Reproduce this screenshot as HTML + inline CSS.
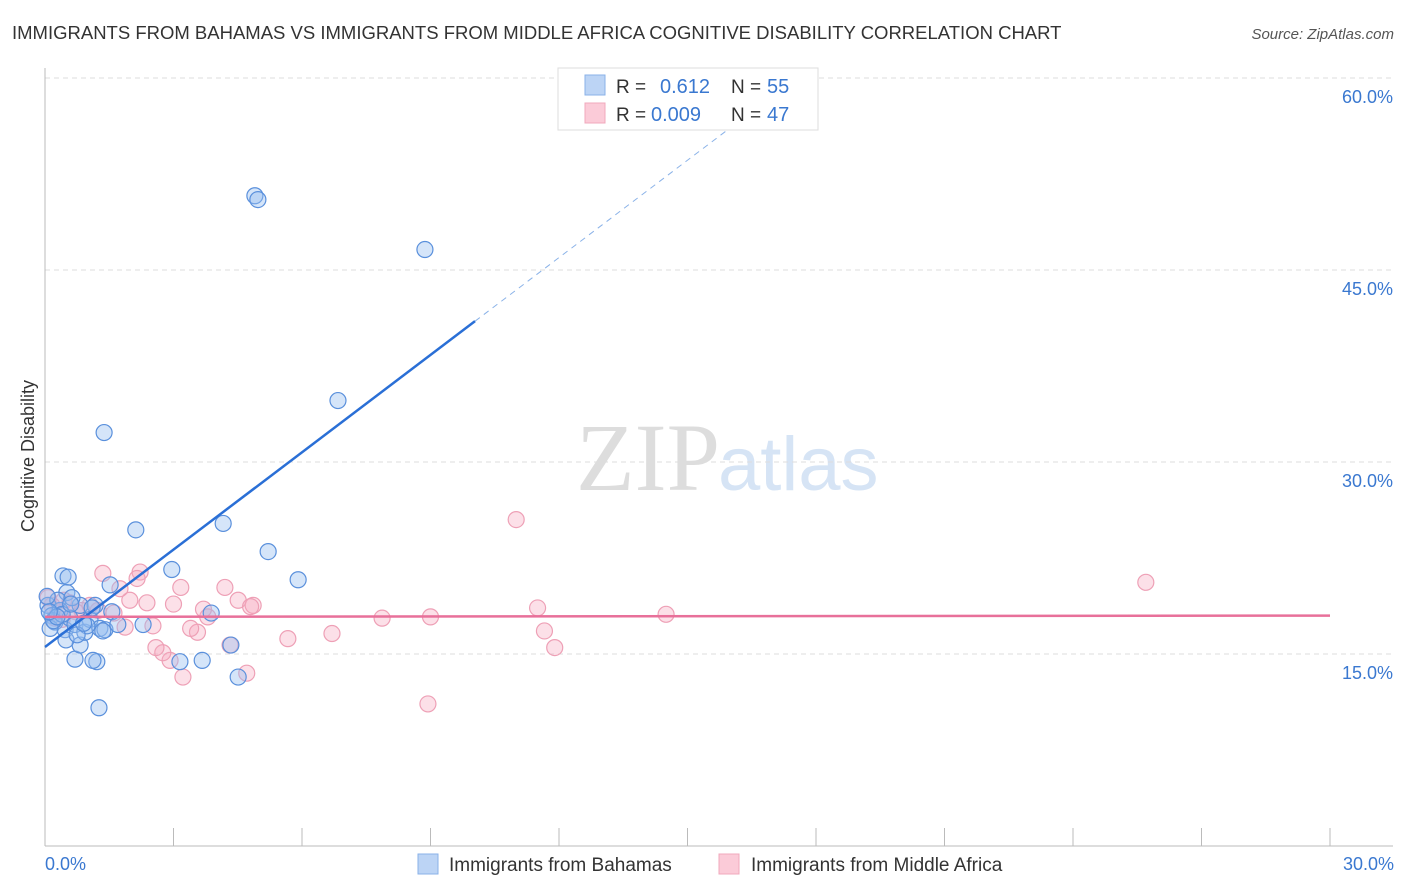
<!DOCTYPE html>
<html><head><meta charset="utf-8"><style>
body{margin:0;background:#fff;font-family:"Liberation Sans",sans-serif;}
svg{display:block}
</style></head><body>
<svg id="chart" width="1406" height="892" xmlns="http://www.w3.org/2000/svg">
<text x="12" y="39" font-size="18.5" fill="#333">IMMIGRANTS FROM BAHAMAS VS IMMIGRANTS FROM MIDDLE AFRICA COGNITIVE DISABILITY CORRELATION CHART</text>
<text x="1394" y="39" font-size="15" fill="#555" font-style="italic" text-anchor="end">Source: ZipAtlas.com</text>
<text x="720" y="490" font-size="96" fill="#ddd" font-family="Liberation Serif,serif" text-anchor="end">ZIP</text>
<text x="718" y="490" font-size="76" fill="#d6e4f5">atlas</text>
<g id="grid"></g><g id="axes"></g>
<g id="pink"></g><g id="blue"></g><g id="trend"></g>
<text transform="translate(34,456) rotate(-90)" font-size="18" fill="#333" text-anchor="middle">Cognitive Disability</text>
<text x="45" y="870" font-size="18" fill="#3a78d0">0.0%</text>
<text x="1394" y="870" font-size="18" fill="#3a78d0" text-anchor="end">30.0%</text>
<g>
<rect x="558" y="68" width="260" height="62" fill="#fff" stroke="#ddd"/>
<rect x="585" y="75" width="20" height="20" fill="#bcd4f5" stroke="#8ab2e8"/>
<rect x="585" y="103" width="20" height="20" fill="#fbcbd8" stroke="#f0a8bc"/>
<text x="616" y="93" font-size="19" fill="#333">R = </text><text x="660" y="93" font-size="20" fill="#3a78d0">0.612</text>
<text x="731" y="93" font-size="19" fill="#333">N = </text><text x="767" y="93" font-size="20" fill="#3a78d0">55</text>
<text x="616" y="121" font-size="19" fill="#333">R = </text><text x="651" y="121" font-size="20" fill="#3a78d0">0.009</text>
<text x="731" y="121" font-size="19" fill="#333">N = </text><text x="767" y="121" font-size="20" fill="#3a78d0">47</text>
</g>
<g>
<rect x="418" y="854" width="20" height="20" fill="#bcd4f5" stroke="#8ab2e8"/>
<text x="449" y="871" font-size="19" fill="#333">Immigrants from Bahamas</text>
<rect x="719" y="854" width="20" height="20" fill="#fbcbd8" stroke="#f0a8bc"/>
<text x="751" y="871" font-size="19" fill="#333">Immigrants from Middle Africa</text>
</g>
</svg>
<script>
const blueX=[4.90,4.97,8.87,6.84,1.38,2.12,4.16,5.21,5.91,2.96,0.42,0.54,1.52,3.88,4.34,4.51,3.15,3.67,2.29,1.21,1.12,0.70,0.82,1.26,0.51,0.07,0.16,0.23,0.35,0.47,0.58,0.70,0.82,0.93,1.05,1.17,1.28,1.40,1.56,1.70,0.49,0.30,0.63,0.98,0.12,0.05,0.20,0.40,0.75,1.10,0.28,0.60,0.90,0.10,1.35];
const blueY=[50.8,50.5,46.6,34.8,32.3,24.7,25.2,23.0,20.8,21.6,21.1,21.0,20.4,18.2,15.7,13.2,14.4,14.5,17.3,14.4,14.5,14.6,15.7,10.8,19.8,18.8,18.0,17.5,18.4,16.9,17.8,17.3,18.8,16.7,17.7,18.8,17.0,16.9,18.3,17.3,16.1,19.2,19.4,17.2,17.0,19.5,17.6,18.1,16.5,18.6,17.9,18.9,17.4,18.3,16.8];
const pinkX=[11.0,25.7,14.5,11.5,11.66,11.9,9.0,8.94,7.87,6.7,5.67,4.71,4.32,4.51,4.86,4.8,4.2,3.8,3.7,3.56,3.4,3.22,3.17,3.0,2.92,2.75,2.59,2.52,2.38,2.22,2.15,1.98,1.87,1.75,1.61,1.35,1.24,1.05,0.86,0.72,0.58,0.44,0.30,0.16,0.07,0.23,0.40];
const pinkY=[25.5,20.6,18.1,18.6,16.8,15.5,17.9,11.1,17.8,16.6,16.2,13.5,15.7,19.2,18.8,18.7,20.2,17.9,18.5,16.7,17.0,13.2,20.2,18.9,14.5,15.1,15.5,17.2,19.0,21.4,20.9,19.2,17.1,20.1,18.2,21.3,18.4,18.8,18.4,18.3,19.0,19.2,18.3,18.8,19.4,17.8,17.7];
const blueTrend=[15.55,2.535]; // intercept, slope
const pinkTrend=[17.9,0.0033];
const yTicks=[15,30,45,60];
const xTicks=[0,3,6,9,12,15,18,21,24,27,30];
const NS='http://www.w3.org/2000/svg';
const sx=v=>45+v/30*1285, sy=v=>846-v*12.8;
function mk(t,a,p){const e=document.createElementNS(NS,t);for(const k in a)e.setAttribute(k,a[k]);document.getElementById(p).appendChild(e);return e;}
yTicks.forEach(t=>{
 const l=mk('line',{x1:45,x2:1393,y1:sy(t),y2:sy(t),stroke:'#ddd','stroke-dasharray':'5,4'},'grid');
 
 
 const tx=mk('text',{x:1393,y:sy(t)+25,'font-size':18,fill:'#3a78d0','text-anchor':'end'},'grid');
 tx.textContent=t.toFixed(1)+'%';
 
 
});
const ya=mk('line',{x1:45,x2:45,y1:68,y2:846,stroke:'#bbb'},'axes');


const xa=mk('line',{x1:45,x2:1393,y1:846,y2:846,stroke:'#bbb'},'axes');


xTicks.forEach(t=>{
 const l=mk('line',{x1:sx(t),x2:sx(t),y1:828,y2:846,stroke:'#bbb'},'axes');
 
 
});
pinkX.forEach((x,i)=>{
 const c=mk('circle',{cx:sx(x),cy:sy(pinkY[i]),r:8,fill:'rgba(245,165,188,0.35)',stroke:'#eea0b6','stroke-width':1.2},'pink');
 
 
});
blueX.forEach((x,i)=>{
 const c=mk('circle',{cx:sx(x),cy:sy(blueY[i]),r:8,fill:'rgba(150,190,240,0.4)',stroke:'#5a90dc','stroke-width':1.2},'blue');
 
 
});
const bt=x=>blueTrend[0]+blueTrend[1]*x, pt=x=>pinkTrend[0]+pinkTrend[1]*x;
const b1=mk('line',{x1:sx(0),y1:sy(bt(0)),x2:sx(10.04),y2:sy(bt(10.04)),stroke:'#2a6fd6','stroke-width':2.5},'trend');


const b2=mk('line',{x1:sx(10.04),y1:sy(bt(10.04)),x2:sx(16.3),y2:sy(bt(16.3)),stroke:'#8ab2e8','stroke-width':1,'stroke-dasharray':'6,5'},'trend');


const p1=mk('line',{x1:sx(0),y1:sy(pt(0)),x2:sx(30),y2:sy(pt(30)),stroke:'#e8709a','stroke-width':2.5},'trend');


</script>
</body></html>
